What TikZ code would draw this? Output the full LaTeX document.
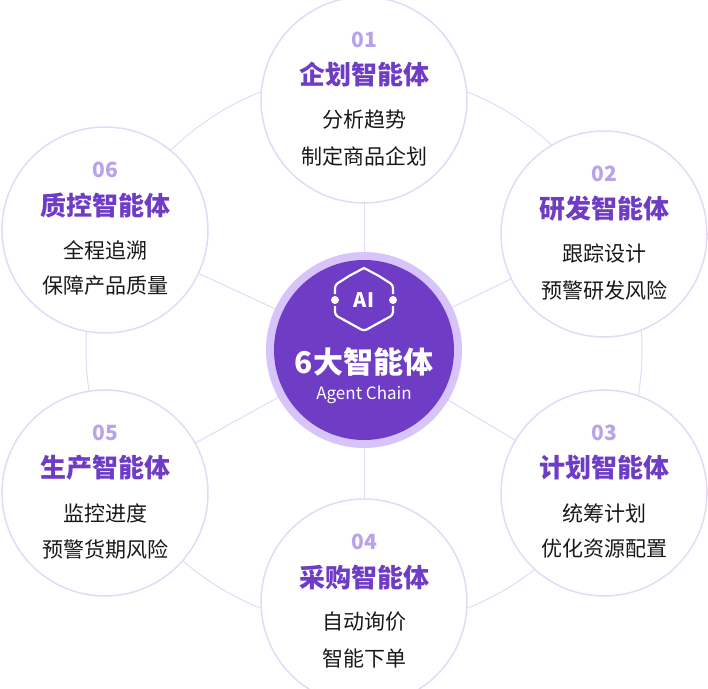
\documentclass[tikz,border=0pt]{standalone}
\usepackage{fontspec}
\setmainfont{Noto Sans CJK SC}
\usetikzlibrary{positioning}
\definecolor{agentpurple}{HTML}{6F3CC6}
\definecolor{numpurple}{HTML}{B8A2EC}
\definecolor{ringline}{HTML}{E4DAF8}
\definecolor{ringpale}{HTML}{D6C4FA}
\tikzset{
  sat/.style={circle, draw=ringline, line width=1.5pt, fill=white, minimum size=206pt, inner sep=0pt},
  num/.style={text=numpurple, font=\fontsize{21}{21}\selectfont\bfseries},
  ttl/.style={text=agentpurple, font=\fontsize{26}{26}\selectfont\bfseries},
  desc/.style={text=black!90, font=\fontsize{21}{34}\selectfont, align=center},
  link/.style={ringline, line width=1pt}
}
\begin{document}
\begin{tikzpicture}[x=1pt, y=-1pt]
  \useasboundingbox (0,0) rectangle (708,688);
  \coordinate (c) at (364,350);
  \draw[link] (c) circle (278);
  % six agents
  \foreach \nm/\x/\y in {a/364/100, b/604/234, c3/604/493, d/364/602, e/105/493, f/105/230}
    \draw[link] (c) -- (\x,\y);
  \foreach \nm/\x/\y/\n/\t/\la/\lb in {
      a/364/100/01/企划智能体/分析趋势/制定商品企划,
      b/604/234/02/研发智能体/跟踪设计/预警研发风险,
      c3/604/493/03/计划智能体/统筹计划/优化资源配置,
      d/364/602/04/采购智能体/自动询价/智能下单,
      e/105/493/05/生产智能体/监控进度/预警货期风险,
      f/105/230/06/质控智能体/全程追溯/保障产品质量}{
    \node[sat] (\nm) at (\x,\y) {};
    \node[num] (\nm-n) at (\x,\y-60) {\n};
    \node[ttl] (\nm-t) at (\x,\y-25) {\t};
    \node[desc] (\nm-l) at (\x,\y+20) {\la};
    \node[desc] (\nm-m) at (\x,\y+56) {\lb};
  }
  % center
  \node[circle, fill=ringpale, minimum size=196pt] (hub) at (c) {};
  \node[circle, fill=agentpurple, minimum size=180pt] (core) at (c) {};
  \draw[white, line width=2.2pt, rounded corners=3pt]
    (349,276) -- (335,285) -- (335,294) (335,306) -- (335,315) -- (364,331) -- (393,315) -- (393,306) (393,294) -- (393,285) -- (379,276);
  \draw[white, line width=2.2pt] (349,276) -- (364,268) -- (379,276);
  \fill[white] (335,300) circle (4) (393,300) circle (4);
  \node[white, font=\fontsize{20}{20}\selectfont\bfseries] (ai) at (364,300) {AI};
  \node[white, font=\fontsize{30}{30}\selectfont\bfseries] (hub-t) at (364,362) {6大智能体};
  \node[white, font=\fontsize{17}{17}\selectfont] (hub-s) at (364,395) {Agent Chain};
\end{tikzpicture}
\end{document}
